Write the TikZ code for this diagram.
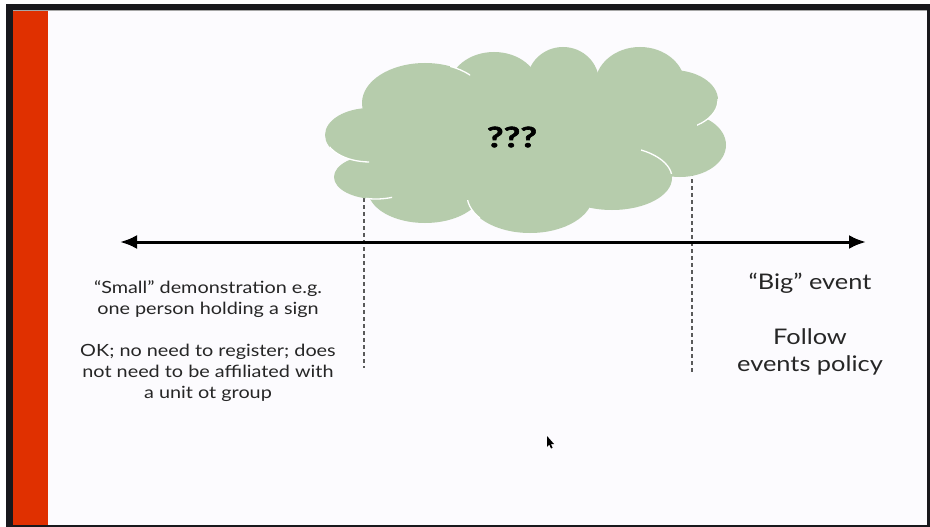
\documentclass[tikz,border=0pt]{standalone}
\usepackage{fontspec}
\setmainfont{Lato}
\newfontfamily\widefont[FakeStretch=1.18]{Lato}
\newfontfamily\qfont[FakeStretch=1.3, FakeBold=2]{Lato}
\usetikzlibrary{arrows.meta}
\definecolor{cloudgreen}{RGB}{182,204,172}
\definecolor{slidered}{RGB}{224,48,0}
\definecolor{darkframe}{RGB}{24,24,28}
\definecolor{slidebg}{RGB}{252,251,254}
\definecolor{dashgray}{RGB}{90,90,90}
\tikzset{
  lefttext/.style={align=center, inner sep=0pt, font=\widefont\fontsize{16.8}{21}\selectfont, text=black!85},
  righttext/.style={align=center, inner sep=0pt, font=\widefont\fontsize{21.5}{27}\selectfont, text=black!85},
  guide/.style={draw=dashgray, line width=1.2pt, dash pattern=on 4pt off 3pt},
  scale arrow/.style={line width=3pt, {Latex[length=17pt,width=14pt]}-{Latex[length=17pt,width=14pt]}},
  cloudpart/.style={fill=cloudgreen},
  cloudline/.style={draw=white, line width=1.3pt}
}
\begin{document}
\begin{tikzpicture}[x=1pt,y=-1pt]
\useasboundingbox (0,0) rectangle (930,527);
% frame
\fill[white] (0,0) rectangle (930,527);
\fill[darkframe] (6,4) rectangle (930,527);
\fill[slidebg] (48,10) rectangle (927,525);
\fill[slidered] (13,10) rectangle (48,525);
\draw[gray!70, line width=0.8pt] (13,10.5) -- (927,10.5);

% dashed guides
\coordinate (g1top) at (364,198);
\coordinate (g1bot) at (364,368);
\coordinate (g2top) at (692,172);
\coordinate (g2bot) at (692,372);
\draw[guide] (g1top) -- (g1bot);
\draw[guide] (g2top) -- (g2bot);

% cloud
\begin{scope}
\fill[cloudpart] (525,140) ellipse [x radius=165pt, y radius=55pt];
\fill[cloudpart] (370,135) ellipse [x radius=45pt, y radius=27pt];
\fill[cloudpart] (376,177) ellipse [x radius=42pt, y radius=22pt];
\fill[cloudpart] (425,103) ellipse [x radius=63pt, y radius=40pt];
\fill[cloudpart] (494,88) ellipse [x radius=45pt, y radius=36pt];
\fill[cloudpart] (563,82) ellipse [x radius=36pt, y radius=35pt];
\fill[cloudpart] (640,85) ellipse [x radius=45pt, y radius=38pt];
\fill[cloudpart] (672,100) ellipse [x radius=46pt, y radius=30pt];
\fill[cloudpart] (680,145) ellipse [x radius=46pt, y radius=32pt];
\fill[cloudpart] (612,178) ellipse [x radius=60pt, y radius=32pt];
\fill[cloudpart] (530,195) ellipse [x radius=63pt, y radius=38pt];
\fill[cloudpart] (425,190) ellipse [x radius=57pt, y radius=33pt];
\end{scope}
% inner white arcs
\begin{scope}
\clip (330,145) rectangle (369,166);
\draw[cloudline] (370,135) ellipse [x radius=45pt, y radius=27pt];
\end{scope}
\begin{scope}
\clip (450,60) rectangle (470,80);
\draw[cloudline] (425,103) ellipse [x radius=63pt, y radius=40pt];
\end{scope}
\begin{scope}
\clip (697,100) rectangle (720,128);
\draw[cloudline] (672,100) ellipse [x radius=46pt, y radius=30pt];
\end{scope}
\begin{scope}
\clip (641,140) rectangle (672,173);
\draw[cloudline] (612,178) ellipse [x radius=60pt, y radius=32pt];
\end{scope}
\begin{scope}
\clip (366,190) rectangle (392,203);
\draw[cloudline] (376,177) ellipse [x radius=42pt, y radius=22pt];
\end{scope}
\begin{scope}
\clip (467,200) rectangle (480,218);
\draw[cloudline] (530,195) ellipse [x radius=63pt, y radius=38pt];
\end{scope}
\node[inner sep=0pt, font=\qfont\fontsize{28}{30}\selectfont\bfseries] (cloud) at (512,137) {???};

% main arrow
\coordinate (aL) at (120,242);
\coordinate (aR) at (866,242);
\draw[scale arrow] (aL) -- (aR);

% texts
\node[lefttext] (small) at (208,299) {“Small” demonstration e.g.\\one person holding a sign};
\node[lefttext] (ok) at (208,372.5) {OK; no need to register; does\\not need to be affiliated with\\a unit ot group};
\node[righttext] (big) at (810,283) {“Big” event};
\node[righttext] (follow) at (810,351.5) {Follow\\events policy};

% mouse cursor
\fill[black] (547,436) -- (547,447) -- (549.3,444.6) -- (551,448.5) -- (552.6,447.8) -- (550.9,444) -- (554,444) -- cycle;
\end{tikzpicture}
\end{document}
